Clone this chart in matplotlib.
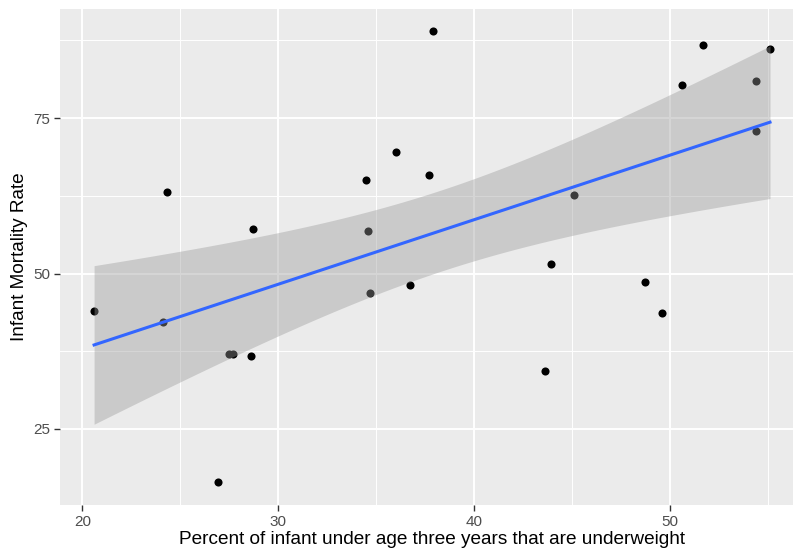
import numpy as np
import matplotlib
matplotlib.use("Agg")
import matplotlib.pyplot as plt

# underweight % (x) vs infant mortality rate (y)
underweight = [20.6, 24.1, 24.3, 26.9, 27.5, 27.7, 28.6, 28.7, 34.5, 34.6,
               34.7, 36.0, 36.7, 37.7, 37.9, 43.6, 43.9, 45.1, 48.7, 49.6,
               50.6, 51.7, 54.4, 54.4, 55.1]
mortality = [43.9, 42.2, 63.1, 16.4, 37.0, 37.0, 36.7, 57.1, 65.0, 56.8,
             46.8, 69.5, 48.2, 65.8, 89.0, 34.4, 51.5, 62.6, 48.7, 43.7,
             80.4, 86.7, 81.0, 72.9, 86.1]
x_ticks = [20, 30, 40, 50]
y_ticks = [25, 50, 75]

x = np.array(underweight)
y = np.array(mortality)
n = len(x)

# lm fit with 95% confidence band (geom_smooth(method = "lm"))
slope, intercept = np.polyfit(x, y, 1)
resid = y - (intercept + slope * x)
s = np.sqrt(np.sum(resid ** 2) / (n - 2))
sxx = np.sum((x - x.mean()) ** 2)
t_crit = 2.069  # t(0.975, df = 23)
xs = np.linspace(x.min(), x.max(), 80)
fit = intercept + slope * xs
se = s * np.sqrt(1.0 / n + (xs - x.mean()) ** 2 / sxx)

fam = ["Liberation Sans", "DejaVu Sans"]
plt.rcParams["font.family"] = fam

fig = plt.figure(figsize=(7.93, 5.54), dpi=100)
W, H = 793, 554
left_px, right_px, top_px, bottom_px = 60.3, 803.8, 8.5, 505
ax = fig.add_axes([left_px / W, 1 - bottom_px / H,
                   (right_px - left_px) / W, (bottom_px - top_px) / H])
ax.set_facecolor("#EBEBEB")

xr = x.max() - x.min()
yr = y.max() - y.min()
ax.set_xlim(x.min() - 0.05 * xr, x.max() + 0.05 * xr)
ax.set_ylim(y.min() - 0.05 * yr, y.max() + 0.05 * yr)

ax.set_xticks(x_ticks)
ax.set_yticks(y_ticks)
ax.set_xticks([25, 35, 45, 55], minor=True)
ax.set_yticks([37.5, 62.5, 87.5], minor=True)
ax.grid(which="major", color="white", linewidth=1.4)
ax.grid(which="minor", color="white", linewidth=0.7)
ax.set_axisbelow(True)
for sp in ax.spines.values():
    sp.set_visible(False)

ax.tick_params(which="major", length=4, width=1.0, color="#333333",
               labelsize=11, labelcolor="#4D4D4D", pad=3)
ax.tick_params(which="minor", length=0)

ax.scatter(x, y, s=34, color="black", linewidths=0, zorder=2)
ax.fill_between(xs, fit - t_crit * se, fit + t_crit * se,
                color="#999999", alpha=0.4, linewidth=0, zorder=3)
ax.plot(xs, fit, color="#3366FF", linewidth=2.2, zorder=4)

ax.set_xlabel("Percent of infant under age three years that are underweight",
              fontsize=13.7, labelpad=2)
ax.set_ylabel("Infant Mortality Rate", fontsize=13.7, labelpad=4)

fig.savefig("out.png", dpi=100)
